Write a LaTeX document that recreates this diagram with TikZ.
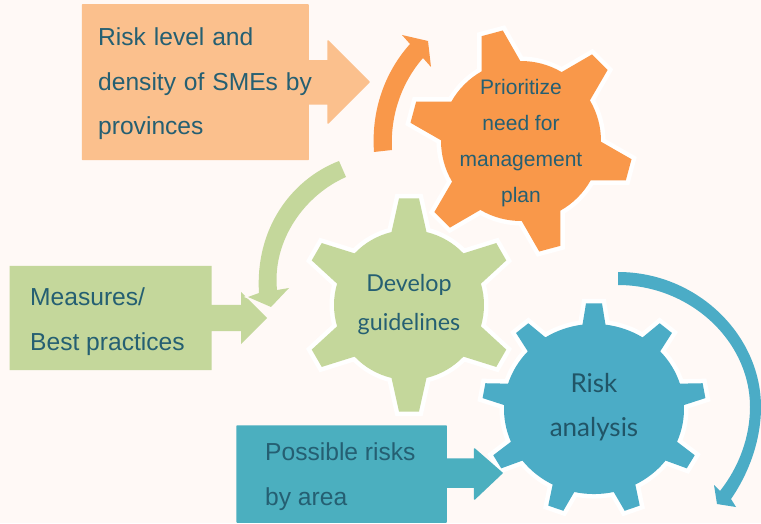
\documentclass[tikz,border=0pt]{standalone}
\usepackage{fontspec}
\setmainfont{Liberation Sans}
\newfontfamily\gearfont{Lato}
\newfontfamily\widemain[WordSpace=1.15]{Liberation Sans}
\definecolor{bgc}{HTML}{FFF9F6}
\definecolor{orangeg}{HTML}{F9984A}
\definecolor{orangel}{HTML}{FBC08D}
\definecolor{greeng}{HTML}{C4D79B}
\definecolor{blueg}{HTML}{4BACC6}
\definecolor{tealb}{HTML}{4BAFBF}
\definecolor{inkc}{HTML}{255F72}
\newcommand{\gearshape}[9]{%
  \pgfmathsetmacro{\gstep}{360/#4}%
  \pgfmathsetmacro{\gdb}{asin(#7/#3)}%
  \pgfmathsetmacro{\gdt}{asin(#8/#6)}%
  \pgfmathtruncatemacro{\glast}{#4-1}%
  \path[shift={(#1,#2)},fill=#9,line join=miter,
    preaction={draw=white,line width=9pt,miter limit=3}]
    (#5-\gdb:#3)
    \foreach \k in {0,...,\glast}{
      -- (#5+\k*\gstep-\gdt:#6) -- (#5+\k*\gstep+\gdt:#6)
      -- (#5+\k*\gstep+\gdb:#3)
      arc[start angle=#5+\k*\gstep+\gdb,end angle=#5+\k*\gstep+\gstep-\gdb,radius=#3]
    } -- cycle;%
}
\tikzset{
  x=1pt,y=1pt,
  boxtext/.style={anchor=base west,inner sep=0pt,text=inkc,font=\fontsize{24.6}{28}\selectfont},
  widetext/.style={boxtext,font=\widemain\fontsize{24.6}{28}\selectfont},
  pritext/.style={anchor=base,inner sep=0pt,text=inkc,font=\fontsize{21}{24}\selectfont},
  geartext/.style={anchor=base,inner sep=0pt,text=inkc,font=\gearfont\fontsize{23.3}{26}\selectfont},
  risktext/.style={anchor=base,inner sep=0pt,text=inkc!90!black,font=\gearfont\fontsize{26}{30}\selectfont}
}
\begin{document}
\begin{tikzpicture}
\useasboundingbox (0,0) rectangle (761,523);
\fill[bgc] (0,0) rectangle (761,523);
% curved arrows (orange, blue)
\fill[orangeg] (374,371) .. controls (371,413) and (385,451) .. (410,479)
  -- (402,488) -- (428,482) -- (431,456) -- (423,465)
  .. controls (402,441) and (390,408) .. (392,373) -- cycle;
\fill[blueg] (618,251) .. controls (697,251) and (761,188) .. (761,116)
  .. controls (761,83) and (749,50) .. (731,24)
  -- (736,16) -- (717,19) -- (714,38) -- (720,32)
  .. controls (739,56) and (750,86) .. (750,116)
  .. controls (750,182) and (690,238) .. (618,238) -- cycle;
% gears
\gearshape{521}{382}{80}{6}{105}{112}{20}{11}{orangeg}
\gearshape{409}{218}{75}{6}{90}{107}{17.5}{10}{greeng}
\begin{scope}[shift={(594,114)},yscale=.945]
\gearshape{0}{0}{90}{9}{90}{112}{11.5}{8}{blueg}
\end{scope}
% input boxes
\path[fill=orangel,draw=orangel,line width=1.5pt,line join=round]
  (82.5,518) -- (308,518) -- (308,462) -- (328,462) -- (328,400) -- (369,441)
  -- (328,482) -- (328,419) -- (308,419) -- (308,363.5) -- (82.5,363.5) -- cycle;
\path[fill=greeng]
  (9.5,257) -- (211.5,257) -- (211.5,218) -- (241,218) -- (241,231) -- (267,205)
  -- (241,179) -- (241,192) -- (211.5,192) -- (211.5,153) -- (9.5,153) -- cycle;
\path[fill=tealb,draw=tealb,line width=1.5pt,line join=round]
  (237,97) -- (446,97) -- (446,64) -- (474.5,64) -- (474.5,74) -- (502,50)
  -- (474.5,24) -- (474.5,36) -- (446,36) -- (446,1) -- (237,1) -- cycle;
% green curved arrow
\path[fill=greeng,preaction={draw=bgc,line width=3pt}]
  (339,362) .. controls (290,343) and (255,293) .. (259,230)
  -- (248,226) -- (271,216) -- (289,235) -- (277,233)
  .. controls (272,283) and (305,328) .. (346,346) -- cycle;
% texts
\node[widetext] (r1) at (98,477.5) {Risk level and};
\node[widetext] (r2) at (98,432.5) {density of SMEs by};
\node[widetext] (r3) at (98,388.5) {provinces};
\node[boxtext] (m1) at (30,218) {Measures/};
\node[boxtext] (m2) at (30,173) {Best practices};
\node[boxtext] (p1) at (265,63) {Possible risks};
\node[boxtext] (p2) at (265,18) {by area};
\node[pritext] (a1) at (521,428) {Prioritize};
\node[pritext] (a2) at (521,392) {need for};
\node[pritext] (a3) at (521,356) {management};
\node[pritext] (a4) at (521,320) {plan};
\node[geartext] (g1) at (409,231) {Develop};
\node[geartext] (g2) at (409,193) {guidelines};
\node[risktext] (k1) at (594,131) {Risk};
\node[risktext] (k2) at (594,87) {analysis};
\end{tikzpicture}
\end{document}
